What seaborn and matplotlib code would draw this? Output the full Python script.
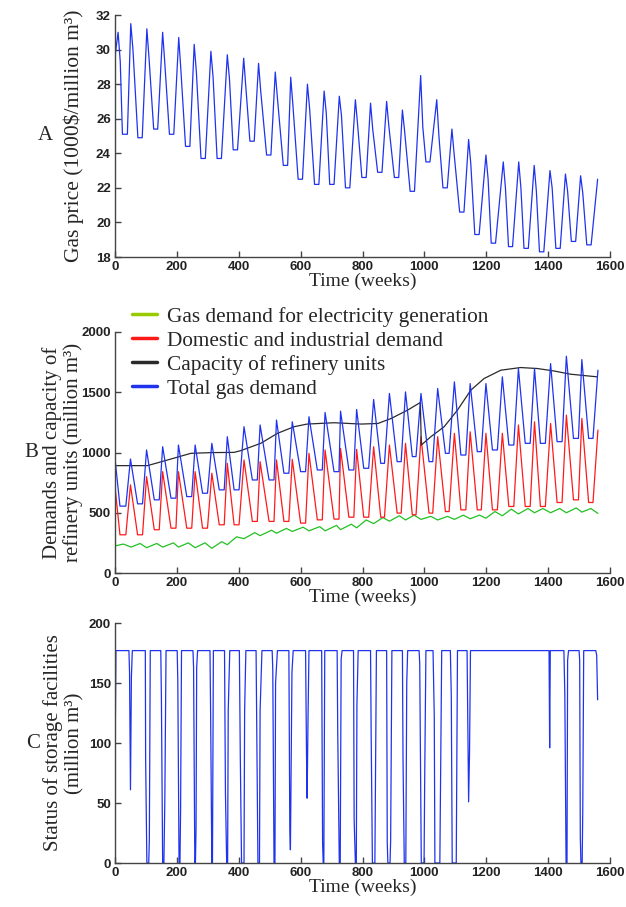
import numpy as np
import pandas as pd
import matplotlib
matplotlib.use("Agg")
import matplotlib.pyplot as plt
from matplotlib.lines import Line2D
import seaborn as sns

# ---------------- Panel A: gas price (per seasonal cycle) ----------------
price_start = [(0, 29.6)]
price_peak_w = [10, 51, 103, 154, 206, 256, 310, 363, 416, 464, 518, 568, 622, 676, 725,
                777, 826, 878, 929, 988, 1040, 1089, 1143, 1199, 1255, 1305, 1355, 1406, 1456, 1505]
price_peak_v = [31.0, 31.5, 31.2, 31.0, 30.7, 30.3, 29.9, 29.7, 29.5, 29.2, 28.7, 28.4, 28.0, 27.6, 27.3,
                27.1, 26.9, 27.0, 26.5, 28.5, 27.1, 25.4, 24.8, 23.9, 23.5, 23.5, 23.3, 23.0, 22.8, 22.7]
price_shoulder_v = [29.3, 30.0, 29.5, 29.2, 28.8, 28.7, 28.4, 28.3, 27.8, 27.6, 27.2, 26.8, 26.6, 26.3, 26.2,
                    25.7, 25.4, 25.6, 25.3, 25.5, 25.0, 24.0, 23.4, 22.5, 22.0, 22.0, 21.8, 22.0, 21.8, 21.7]
price_trough_start = [24, 74, 125, 176, 228, 278, 330, 382, 436, 490, 544, 592, 645, 694, 745,
                      798, 849, 903, 954, 1005, 1060, 1114, 1163, 1216, 1272, 1322, 1372, 1425, 1475, 1525]
price_trough_end = [40, 88, 138, 190, 242, 292, 344, 396, 450, 504, 558, 606, 659, 708, 759,
                    812, 863, 917, 968, 1018, 1074, 1128, 1177, 1230, 1285, 1336, 1386, 1439, 1489, 1539]
price_trough_v = [25.1, 24.9, 25.4, 25.1, 24.4, 23.7, 23.7, 24.2, 24.7, 23.9, 23.3, 22.5, 22.2, 22.2, 22.0,
                  22.6, 22.9, 22.6, 21.8, 23.5, 22.0, 20.6, 19.3, 18.8, 18.6, 18.5, 18.3, 18.5, 18.9, 18.7]
price_end = [(1560, 22.5)]

# ---------------- Panel B: demands and capacity ----------------
dem_peak_w = [50, 102, 154, 205, 259, 313, 363, 417, 469, 522, 573, 627, 679, 729, 781,
              836, 887, 939, 989, 1043, 1097, 1148, 1199, 1252, 1304, 1356, 1408, 1459, 1509]
dem_trough_start = [16, 73, 127, 181, 232, 283, 337, 385, 444, 498, 546, 600, 654, 708, 756,
                    804, 859, 912, 961, 1015, 1068, 1118, 1171, 1220, 1273, 1326, 1375, 1429, 1482, 1531]
dem_trough_end = [35, 89, 143, 197, 248, 299, 353, 401, 460, 514, 562, 616, 670, 724, 772,
                  820, 871, 925, 973, 1027, 1080, 1134, 1184, 1236, 1289, 1342, 1391, 1445, 1498, 1545]
total_start = (0, 950)
total_trough_v = [555, 574, 607, 621, 634, 662, 690, 690, 772, 772, 828, 841, 855, 841, 855,
                  869, 910, 924, 966, 924, 993, 979, 1007, 1021, 1062, 1076, 1076, 1090, 1117, 1117]
total_peak_v = [946, 1021, 1048, 1062, 1062, 1076, 1131, 1214, 1228, 1269, 1255, 1297, 1332, 1343, 1357,
                1440, 1490, 1503, 1490, 1531, 1586, 1572, 1572, 1628, 1697, 1697, 1738, 1799, 1771]
total_end = (1561, 1683)
dom_start = (0, 717)
dom_trough_v = [317, 317, 359, 372, 372, 372, 400, 400, 428, 428, 428, 414, 441, 447, 463,
                463, 463, 497, 483, 497, 510, 524, 524, 524, 552, 552, 552, 585, 607, 585]
dom_peak_v = [731, 800, 841, 841, 841, 828, 910, 938, 924, 938, 943, 993, 1021, 1034, 1026,
              1048, 1062, 1076, 1131, 1131, 1159, 1172, 1159, 1159, 1228, 1255, 1241, 1310, 1283]
dom_end = (1561, 1186)

elec_w = [0, 27, 52, 81, 102, 135, 154, 189, 205, 237, 259, 291, 313, 345, 363, 393, 417, 452, 469,
          506, 522, 554, 573, 608, 627, 662, 679, 716, 729, 764, 781, 812, 836, 866, 887, 919, 939,
          967, 989, 1021, 1043, 1075, 1097, 1126, 1148, 1178, 1199, 1228, 1252, 1281, 1304, 1335,
          1356, 1383, 1408, 1437, 1459, 1491, 1509, 1538, 1561]
elec_v = [225, 240, 215, 245, 210, 245, 215, 250, 215, 250, 210, 250, 205, 260, 235, 300, 285, 335, 310,
          355, 330, 370, 345, 380, 350, 385, 350, 395, 360, 405, 375, 440, 410, 460, 430, 475, 440,
          480, 445, 470, 440, 470, 445, 480, 450, 480, 455, 510, 475, 530, 490, 535,
          500, 535, 500, 535, 500, 540, 505, 535, 495]

cap_w = [0, 105, 170, 245, 310, 385, 406, 471, 525, 579, 621, 708, 796, 850, 893, 946, 987,
         990, 1021, 1064, 1107, 1150, 1193, 1247, 1311, 1365, 1418, 1472, 1558]
cap_v = [891, 891, 938, 993, 999, 1001, 1015, 1076, 1159, 1214, 1236, 1247, 1236, 1241, 1283, 1352, 1415,
         1062, 1131, 1214, 1352, 1517, 1614, 1683, 1705, 1697, 1677, 1650, 1628]

# ---------------- Panel C: storage status ----------------
storage_w = [0, 3,
             45, 47, 50, 53, 56,
             98, 99, 103, 109, 111, 114,
             148, 150, 154, 158, 161, 165,
             201, 203, 207, 210, 212, 215,
             252, 254, 258, 260, 262, 264, 267,
             307, 309, 313, 315, 318,
             354, 357, 361, 364, 366, 371,
             402, 405, 409, 417, 419, 423,
             456, 459, 462, 467, 469, 475,
             508, 510, 514, 517, 519, 525,
             562, 565, 567, 572, 576,
             616, 619, 621, 624, 627,
             668, 671, 673, 675, 678,
             718, 720, 723, 725, 728, 731, 734,
             771, 773, 777, 780, 782, 786,
             826, 828, 832, 840, 845,
             878, 880, 882, 889, 891, 895,
             929, 931, 935, 940, 943, 946,
             983, 985, 990, 999, 1001, 1005,
             1028, 1032, 1034, 1050, 1056,
             1084, 1087, 1090, 1103, 1107,
             1138, 1140, 1143, 1146, 1149,
             1403, 1405, 1407,
             1451, 1454, 1458, 1461, 1463, 1466,
             1500, 1502, 1504, 1506, 1510, 1512, 1515,
             1554, 1557, 1560]
storage_v = [78, 177,
             177, 159, 61, 155, 177,
             177, 87, 0, 0, 19, 177,
             177, 137, 0, 0, 51, 177,
             177, 152, 0, 0, 44, 177,
             177, 163, 0, 0, 30, 163, 177,
             177, 127, 0, 0, 177,
             177, 58, 0, 0, 127, 177,
             177, 89, 0, 0, 127, 177,
             177, 93, 0, 0, 127, 177,
             177, 161, 0, 0, 150, 177,
             177, 30, 11, 159, 177,
             177, 91, 54, 123, 177,
             177, 17, 0, 0, 177,
             177, 108, 43, 0, 0, 170, 177,
             177, 36, 0, 0, 132, 177,
             177, 108, 0, 0, 177,
             177, 17, 0, 0, 19, 177,
             177, 86, 0, 0, 150, 177,
             177, 166, 0, 0, 69, 177,
             177, 122, 0, 0, 177,
             177, 139, 0, 0, 177,
             177, 129, 51, 93, 177,
             177, 96, 177,
             177, 140, 0, 0, 169, 177,
             177, 169, 22, 0, 0, 44, 177,
             177, 173, 136]

x_ticks = [0, 200, 400, 600, 800, 1000, 1200, 1400, 1600]
price_ticks = [18, 20, 22, 24, 26, 28, 30, 32]
demand_ticks = [0, 500, 1000, 1500, 2000]
storage_ticks = [0, 50, 100, 150, 200]

# ---------------- build series tables ----------------
pw, pv = [price_start[0][0]], [price_start[0][1]]
for i in range(len(price_peak_w)):
    pw += [price_peak_w[i], price_peak_w[i] + 7, price_trough_start[i], price_trough_end[i]]
    pv += [price_peak_v[i], price_shoulder_v[i], price_trough_v[i], price_trough_v[i]]
pw.append(price_end[0][0]); pv.append(price_end[0][1])
price_df = pd.DataFrame({"week": pw, "value": pv})


def demand_series(start, trough_v, peak_v, end):
    w, v = [start[0]], [start[1]]
    for i in range(len(trough_v)):
        w += [dem_trough_start[i], dem_trough_end[i]]
        v += [trough_v[i], trough_v[i]]
        if i < len(peak_v):
            w.append(dem_peak_w[i]); v.append(peak_v[i])
    w.append(end[0]); v.append(end[1])
    return pd.DataFrame({"week": w, "value": v})


total_df = demand_series(total_start, total_trough_v, total_peak_v, total_end)
dom_df = demand_series(dom_start, dom_trough_v, dom_peak_v, dom_end)
elec_df = pd.DataFrame({"week": elec_w, "value": elec_v})
cap_df = pd.DataFrame({"week": cap_w, "value": cap_v})
storage_df = pd.DataFrame({"week": storage_w, "value": storage_v})

# ---------------- styling ----------------
sns.set_theme(style="ticks")
plt.rcParams["font.family"] = ["Liberation Serif", "DejaVu Serif"]

SERIF = "Liberation Serif"
TICKFONT = {"family": "Liberation Sans", "weight": "bold", "size": 9.5}
BLUE = "#1f33ee"
RED = "#ff1a1a"
GREEN = "#22c022"
BLACK = "#2a2a2a"

W, H = 626, 907
fig = plt.figure(figsize=(W / 100, H / 100), dpi=100)


def px_axes(left, top, right, bottom):
    return fig.add_axes([left / W, 1 - bottom / H, (right - left) / W, (bottom - top) / H])


axA = px_axes(115, 15, 610, 257)
axB = px_axes(115, 332, 610, 573)
axC = px_axes(115, 623, 610, 863)

lw = 0.9
sns.lineplot(data=price_df, x="week", y="value", ax=axA, color=BLUE, lw=lw,
             estimator=None, sort=False)
sns.lineplot(data=elec_df, x="week", y="value", ax=axB, color=GREEN, lw=lw,
             estimator=None, sort=False)
sns.lineplot(data=dom_df, x="week", y="value", ax=axB, color=RED, lw=lw,
             estimator=None, sort=False)
sns.lineplot(data=cap_df, x="week", y="value", ax=axB, color=BLACK, lw=lw,
             estimator=None, sort=False)
sns.lineplot(data=total_df, x="week", y="value", ax=axB, color=BLUE, lw=lw,
             estimator=None, sort=False)
sns.lineplot(data=storage_df, x="week", y="value", ax=axC, color=BLUE, lw=lw,
             estimator=None, sort=False)

ylims = [(18, 32), (0, 2000), (0, 200)]
yticks = [price_ticks, demand_ticks, storage_ticks]
for ax, yl, yt in zip([axA, axB, axC], ylims, yticks):
    ax.set_xlim(0, 1600)
    ax.set_ylim(*yl)
    ax.set_xticks(x_ticks)
    ax.set_yticks(yt)
    ax.set_xticklabels([str(t) for t in x_ticks], fontdict=TICKFONT, color="#222222")
    ax.set_yticklabels([str(t) for t in yt], fontdict=TICKFONT, color="#222222")
    ax.tick_params(direction="in", length=4, width=1, color="#444444", pad=3)
    for s in ["top", "right"]:
        ax.spines[s].set_visible(False)
    for s in ["left", "bottom"]:
        ax.spines[s].set_color("#444444")
        ax.spines[s].set_linewidth(1.0)
    ax.set_facecolor("white")
    ax.set_xlabel("Time (weeks)", fontsize=14, family=SERIF, labelpad=0)

axA.set_ylabel("Gas price (1000\\$/million m³)", fontsize=15.5, family=SERIF)
axB.set_ylabel("Demands and capacity of\nrefinery units (million m³)", fontsize=15,
               family=SERIF, linespacing=1.1)
axC.set_ylabel("Status of storage facilities\n(million m³)", fontsize=15,
               family=SERIF, linespacing=1.1)
# label coords: x is the edge of the rotated label nearest the axis
for ax, xr in [(axA, 84), (axB, 83), (axC, 84)]:
    ax.yaxis.set_label_coords((xr - 115) / 495, 0.5)

for letter, x, yc in [("A", 45, 136), ("B", 31, 452), ("C", 33, 743)]:
    fig.text(x / W, 1 - yc / H, letter, fontsize=15, family=SERIF, ha="center", va="center")

handles = [Line2D([], [], color="#99cc00", lw=2.5),
           Line2D([], [], color=RED, lw=2.5),
           Line2D([], [], color=BLACK, lw=2.5),
           Line2D([], [], color=BLUE, lw=2.5)]
labels = ["Gas demand for electricity generation", "Domestic and industrial demand",
          "Capacity of refinery units", "Total gas demand"]
fig.legend(handles, labels, loc="upper left", bbox_to_anchor=(132 / W, 1 - 307 / H),
           frameon=False, prop={"family": SERIF, "size": 15.3}, borderpad=0,
           handlelength=1.18, handletextpad=0.47, labelspacing=0.19, borderaxespad=0)

fig.savefig("out.png", dpi=100, facecolor="white")
